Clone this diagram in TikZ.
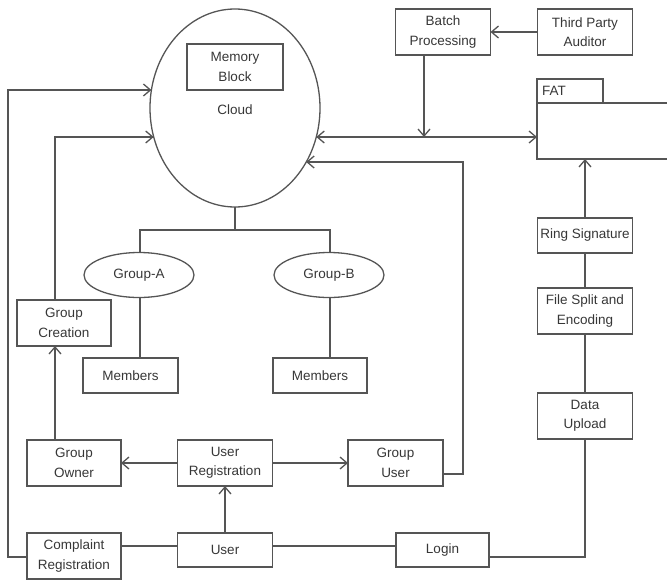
\documentclass[tikz,border=0pt]{standalone}
\usepackage{fontspec}
\setmainfont{Liberation Sans}
\usetikzlibrary{shapes.geometric,arrows.meta,calc}
\definecolor{ln}{RGB}{85,85,85}
\definecolor{tx}{RGB}{55,55,55}
\begin{document}
\begin{tikzpicture}[x=1pt,y=-1pt,
  every node/.style={font=\fontsize{13.5}{19.5}\selectfont, text=tx, inner sep=0pt, outer sep=0pt},
  box/.style={draw=ln, line width=1.3pt, align=center, minimum width=95pt, minimum height=46pt},
  lowbox/.style={box, minimum height=35pt},
  oval/.style={draw=ln, line width=1.3pt, ellipse, minimum width=110pt, minimum height=45pt},
  conn/.style={draw=ln, line width=1.3pt},
  arr/.style={conn, -{Straight Barb[length=7pt,width=12pt]}},
  darr/.style={conn, {Straight Barb[length=7pt,width=12pt]}-{Straight Barb[length=7pt,width=12pt]}}]
\useasboundingbox (0,0) rectangle (667,581);
% cloud
\node[draw=ln, line width=1.3pt, ellipse, minimum width=170pt, minimum height=198pt] (cloud) at (235,108) {};
\node[box, minimum width=96pt] (mem) at (235,67) {Memory\\Block};
\node (cloudlbl) at (235,110) {Cloud};
% top right
\node[box] (batch) at (443,32) {Batch\\Processing};
\node[box] (tpa) at (585,32) {Third Party\\Auditor};
\node[draw=ln, line width=1.3pt, anchor=north west, minimum width=66pt, minimum height=24pt, text width=60pt, align=left] (fattab) at (537,79) {\hspace*{2pt}FAT};
\node[draw=ln, line width=1.3pt, anchor=north west, minimum width=150pt, minimum height=56pt] (fat) at (537,103) {};
\node[lowbox] (ring) at (585,235.5) {Ring Signature};
\node[box] (split) at (585,311) {File Split and\\Encoding};
\node[box] (upload) at (585,416) {Data\\Upload};
% groups
\node[oval] (ga) at (139,275) {Group-A};
\node[oval] (gb) at (329,275) {Group-B};
\node[lowbox] (mema) at (130.5,375.5) {Members};
\node[lowbox, minimum width=94pt] (memb) at (320,375.5) {Members};
% left / bottom
\node[box, minimum width=94pt] (gcreate) at (64,323) {Group\\Creation};
\node[box, minimum width=94pt] (gowner) at (74,463) {Group\\Owner};
\node[box] (ureg) at (225,463) {User\\Registration};
\node[box] (guser) at (395.5,463) {Group\\User};
\node[box, minimum width=94pt] (compl) at (74,556) {Complaint\\Registration};
\node[lowbox, minimum height=34pt] (user) at (225,550) {User};
\node[lowbox, minimum width=93pt, minimum height=34pt] (login) at (442.5,550) {Login};
% boundary points on cloud
\coordinate (cL1) at (151.4,90);
\coordinate (cL2) at (153.7,137);
\coordinate (cR1) at (316.3,137);
\coordinate (cR2) at (306.2,162);
\coordinate (junc) at (424,137);
\coordinate (split1) at (235,230);
% connectors
\draw[arr] (tpa.west) -- (batch.east);
\draw[arr] (batch.south -| junc) -- (junc);
\draw[darr] (cR1) -- (fat.west |- junc);
\draw[arr] (ring.north) -- (ring.north |- fat.south);
\draw[conn] (split.north) -- (ring.south);
\draw[conn] (upload.north) -- (split.south);
\draw[conn] (login.east |- 0,557) -- (upload.south |- 0,557) -- (upload.south);
\draw[conn] (user.east |- 0,546) -- (login.west |- 0,546);
\draw[conn] (compl.east |- 0,546) -- (user.west |- 0,546);
\draw[arr] (compl.west |- 0,557) -- (8,557) -- (8,90) -- (cL1);
\draw[arr] (user.north) -- (ureg.south);
\draw[arr] (ureg.west) -- (gowner.east);
\draw[arr] (ureg.east) -- (guser.west);
\draw[arr] (gowner.north -| 55,0) -- (gcreate.south -| 55,0);
\draw[arr] (gcreate.north -| 55,0) -- (55,137) -- (cL2);
\draw[arr] (guser.east |- 0,474) -- (463,474) -- (463,162) -- (cR2);
\draw[conn] (cloud.south) -- (split1);
\draw[conn] (ga.north -| 140,0) |- (split1) -| (gb.north -| 330,0);
\draw[conn] (ga.south -| 140,0) -- (mema.north -| 140,0);
\draw[conn] (gb.south -| 330,0) -- (memb.north -| 330,0);
\end{tikzpicture}
\end{document}
